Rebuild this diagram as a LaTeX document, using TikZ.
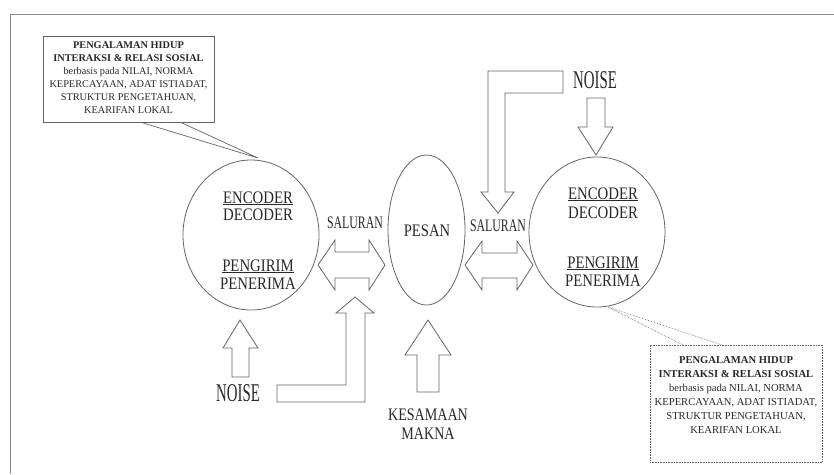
\documentclass[tikz,border=0pt]{standalone}
\usepackage{fontspec}
\usepackage{graphicx}
\setmainfont{Liberation Serif}
\usetikzlibrary{shapes.geometric}
\definecolor{ln}{RGB}{100,100,100}
\definecolor{fr}{RGB}{140,140,140}
\definecolor{tx}{RGB}{40,40,40}
\newcommand{\bigtxt}[2]{\scalebox{#1}[1]{\fontsize{17.6}{20}\selectfont #2}}
\newcommand{\noisetxt}{\scalebox{0.58}[1]{\fontsize{25.6}{28}\selectfont NOISE}}
\begin{document}
\begin{tikzpicture}[x=1pt,y=-1pt,
  blk/.style={draw=ln, line width=0.8pt, fill=white, line join=miter},
  lbl/.style={text=tx, inner sep=0pt, anchor=base},
  oval/.style={draw=ln, line width=0.8pt, ellipse, inner sep=0pt},
  infobox/.style={inner sep=0pt, align=center, text=tx}]
\useasboundingbox (0,0) rectangle (834,474);
\fill[white] (0,0) rectangle (834,474);
% frame
\coordinate (fa) at (10,474);
\coordinate (fb) at (10,14);
\coordinate (fc) at (834,14);
\draw[fr, line width=1pt] (fa) -- (fb) -- (fc);

% ellipses
\node[oval, minimum width=136pt, minimum height=150pt] (cl) at (251,235) {};
\node[oval, minimum width=77pt, minimum height=150pt] (pesan) at (426.5,230) {};
\node[oval, minimum width=136pt, minimum height=150pt] (cr) at (597,232) {};

% left circle text
\node[lbl] (encL) at (258,203) {\bigtxt{0.84}{\underline{ENCODER}}};
\node[lbl] (decL) at (258,220) {\bigtxt{0.84}{DECODER}};
\node[lbl] (pengL) at (258,271) {\bigtxt{0.84}{\underline{PENGIRIM}}};
\node[lbl] (penL) at (258,289) {\bigtxt{0.84}{PENERIMA}};
% right circle text
\node[lbl] (encR) at (603,199) {\bigtxt{0.84}{\underline{ENCODER}}};
\node[lbl] (decR) at (603,218) {\bigtxt{0.84}{DECODER}};
\node[lbl] (pengR) at (603,268) {\bigtxt{0.84}{\underline{PENGIRIM}}};
\node[lbl] (penR) at (603,286) {\bigtxt{0.84}{PENERIMA}};
% middle texts
\node[lbl] (pesanT) at (427,236) {\bigtxt{0.83}{PESAN}};
\node[lbl] (salL) at (355,228) {\bigtxt{0.67}{SALURAN}};
\node[lbl] (salR) at (498,231) {\bigtxt{0.67}{SALURAN}};
\node[lbl] (kes) at (428,420) {\bigtxt{0.8}{KESAMAAN}};
\node[lbl] (makna) at (428,439) {\bigtxt{0.8}{MAKNA}};
\node[lbl] (noiseL) at (238,401.5) {\noisetxt};
\node[lbl] (noiseR) at (595,88.5) {\noisetxt};

% left double arrow
\draw[blk] (318,265) -- (335,240) -- (335,252) -- (369,252) -- (369,240) -- (385,265)
  -- (369,290) -- (369,278) -- (335,278) -- (335,290) -- cycle;
% right double arrow
\draw[blk] (465,265) -- (482,241) -- (482,253) -- (517,253) -- (517,241) -- (533,265)
  -- (517,290) -- (517,278) -- (482,278) -- (482,290) -- cycle;
% L arrow bottom (noise to channel)
\draw[blk] (355,297) -- (374,313) -- (365,313) -- (365,402) -- (277,402) -- (277,385)
  -- (346,385) -- (346,313) -- (336,313) -- cycle;
% left small up arrow
\draw[blk] (240,320) -- (258,348) -- (249,348) -- (249,377) -- (232,377) -- (232,348)
  -- (223,348) -- cycle;
% middle up arrow
\draw[blk] (428,320) -- (451,355) -- (439,355) -- (439,392) -- (417,392) -- (417,355)
  -- (405,355) -- cycle;
% top L arrow
\draw[blk] (498,213) -- (481,192) -- (488,192) -- (488,71) -- (563,71) -- (563,93)
  -- (505,93) -- (505,192) -- (514,192) -- cycle;
% right small down arrow
\draw[blk] (596,155) -- (578,127) -- (587,127) -- (587,98) -- (605,98) -- (605,127)
  -- (613,127) -- cycle;

% left callout
\coordinate (pl1) at (140,122);
\coordinate (pl2) at (180,122);
\coordinate (plt) at (258,158);
\draw[ln, line width=0.7pt] (pl1) -- (plt) -- (pl2);
\node[draw=ln, line width=0.7pt, fill=white, minimum width=171pt, minimum height=86pt, inner sep=0pt] (boxL) at (128.5,79) {};
\node[infobox, font=\fontsize{10.3}{13}\selectfont] (txtL) at (128.5,78) {\textbf{PENGALAMAN HIDUP}\\ \textbf{INTERAKSI \& RELASI SOSIAL}\\ berbasis pada NILAI, NORMA\\ KEPERCAYAAN, ADAT ISTIADAT,\\ STRUKTUR PENGETAHUAN,\\ KEARIFAN LOKAL};

% right callout
\coordinate (pr1) at (683,345);
\coordinate (pr2) at (722,345);
\coordinate (prt) at (608,307);
\draw[ln, line width=0.6pt, densely dotted] (pr1) -- (prt) -- (pr2);
\node[draw=ln, line width=0.6pt, densely dotted, fill=white, minimum width=172pt, minimum height=117pt, inner sep=0pt] (boxR) at (736,403.5) {};
\node[infobox, font=\fontsize{10.6}{14}\selectfont] (txtR) at (736,395) {\textbf{PENGALAMAN HIDUP}\\ \textbf{INTERAKSI \& RELASI SOSIAL}\\ berbasis pada NILAI, NORMA\\ KEPERCAYAAN, ADAT ISTIADAT,\\ STRUKTUR PENGETAHUAN,\\ KEARIFAN LOKAL};
\end{tikzpicture}
\end{document}
